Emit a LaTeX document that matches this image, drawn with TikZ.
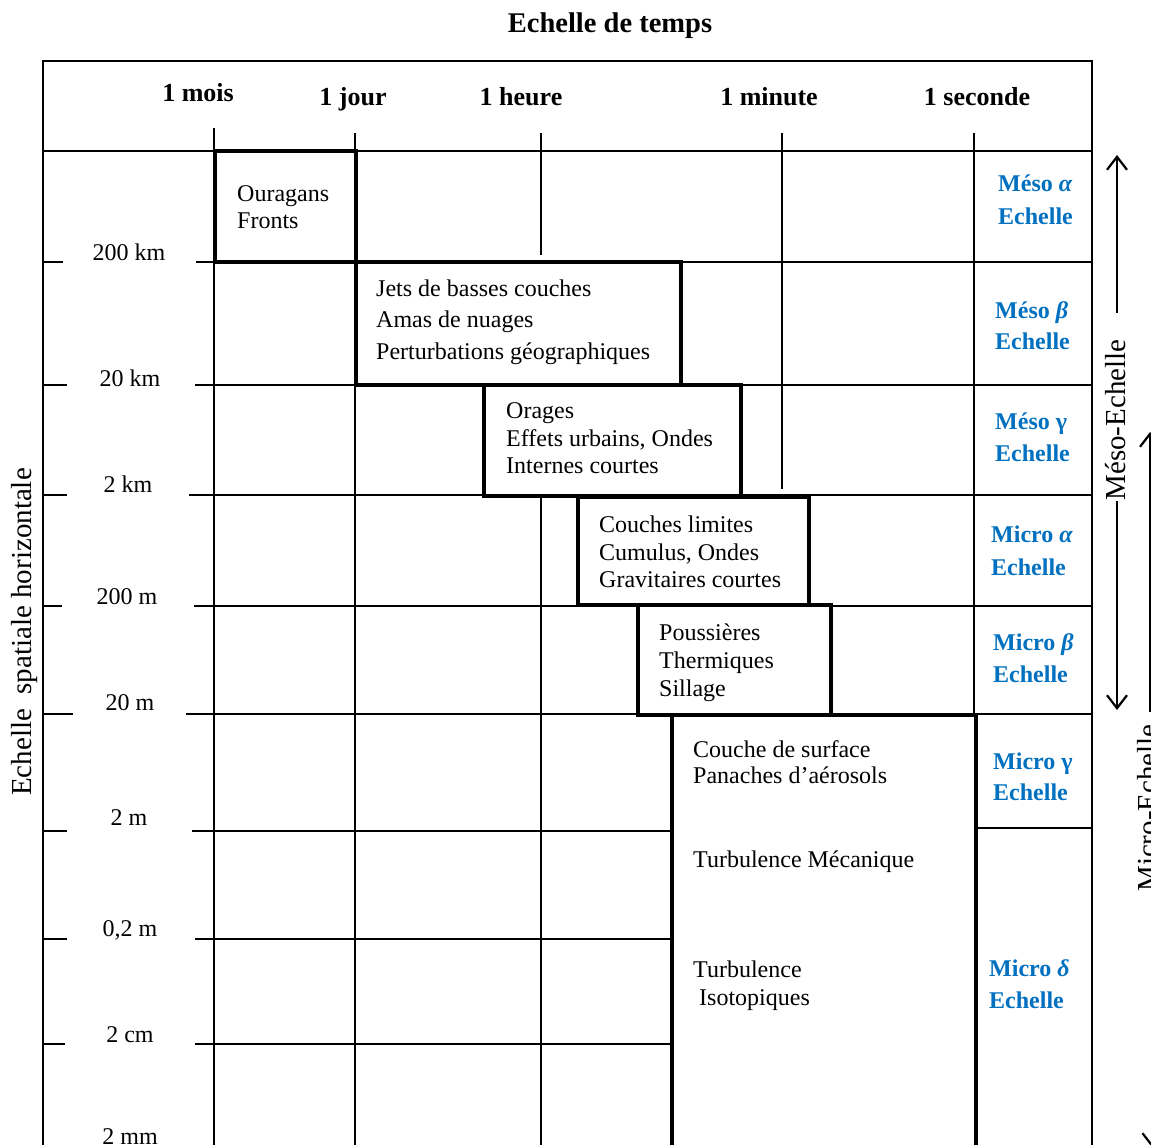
\documentclass[tikz,border=0pt]{standalone}
\usepackage{fontspec}
\setmainfont{Liberation Serif}
\usetikzlibrary{arrows.meta}
\definecolor{scaleblue}{RGB}{0,112,192}
\begin{document}
\begin{tikzpicture}[x=1pt,y=-1pt,
  gridline/.style={line width=1.4pt},
  boxline/.style={line width=3.4pt, line join=miter},
  txt/.style={inner sep=0pt, anchor=base west, font=\fontsize{24}{28}\selectfont},
  rowlbl/.style={inner sep=0pt, anchor=base, font=\fontsize{24}{28}\selectfont},
  hdr/.style={inner sep=0pt, anchor=base, font=\fontsize{26}{30}\selectfont\bfseries},
  bluelbl/.style={inner sep=0pt, anchor=base west, text=scaleblue, font=\fontsize{24}{28}\selectfont\bfseries},
  rotlbl/.style={inner sep=0pt, anchor=base, rotate=90, font=\fontsize{29}{34}\selectfont},
  arr/.style={line width=2.2pt, -{Straight Barb[length=13pt,width=20pt,line width=2.2pt]}}
]
\clip (0,0) rectangle (1151,1144);
\fill[white] (0,0) rectangle (1151,1144);

% title
\node[inner sep=0pt, anchor=base, font=\fontsize{28.5}{33}\selectfont\bfseries] (title) at (610,32) {Echelle de temps};

% frame
\draw[gridline] (43,1150) -- (43,61) -- (1092,61) -- (1092,1150);
\draw[gridline] (43,151) -- (1092,151);

% header labels
\node[hdr] (mois) at (198,101) {1 mois};
\node[hdr] (jour) at (353,105) {1 jour};
\node[hdr] (heure) at (521,105) {1 heure};
\node[hdr] (minute) at (769,105) {1 minute};
\node[hdr] (seconde) at (977,105) {1 seconde};

% vertical grid lines
\draw[gridline] (214,128) -- (214,1150);
\draw[gridline] (355,133) -- (355,1150);
\draw[gridline] (541,133) -- (541,255);
\draw[gridline] (541,497) -- (541,1150);
\draw[gridline] (782,133) -- (782,489);
\draw[gridline] (974,133) -- (974,714);

% horizontal grid lines
\foreach \yy/\aa/\bb in {262/63/196, 385/67/195, 495/67/189, 606/62/194, 714/73/186}{
  \draw[gridline] (43,\yy) -- (\aa,\yy);
  \draw[gridline] (\bb,\yy) -- (1092,\yy);
}
\foreach \yy/\aa/\bb in {831/67/192, 939/67/195, 1044/65/195}{
  \draw[gridline] (43,\yy) -- (\aa,\yy);
  \draw[gridline] (\bb,\yy) -- (671,\yy);
}
\draw[gridline] (976,828) -- (1092,828);

% row labels
\node[rowlbl] (r1) at (129,260) {200 km};
\node[rowlbl] (r2) at (130,386) {20 km};
\node[rowlbl] (r3) at (128,492) {2 km};
\node[rowlbl] (r4) at (127,604) {200 m};
\node[rowlbl] (r5) at (130,710) {20 m};
\node[rowlbl] (r6) at (129,825) {2 m};
\node[rowlbl] (r7) at (130,936) {0,2 m};
\node[rowlbl] (r8) at (130,1042) {2 cm};
\node[rowlbl] (r9) at (130,1144) {2 mm};

% boxes
\draw[boxline] (215,151) rectangle (356,262);
\draw[boxline] (356,262) rectangle (681,385);
\draw[boxline] (484,385) rectangle (741,496);
\draw[boxline] (578,497) rectangle (809,605);
\draw[boxline] (638,605) rectangle (831,715);
\draw[boxline] (672,1150) |- (976,715) -- (976,1150);

% box texts
\node[txt] (t1a) at (237,201) {Ouragans};
\node[txt] (t1b) at (237,228) {Fronts};
\node[txt] (t2a) at (376,296) {Jets de basses couches};
\node[txt] (t2b) at (376,327) {Amas de nuages};
\node[txt] (t2c) at (376,359) {Perturbations géographiques};
\node[txt] (t3a) at (506,418) {Orages};
\node[txt] (t3b) at (506,446) {Effets urbains, Ondes};
\node[txt] (t3c) at (506,473) {Internes courtes};
\node[txt] (t4a) at (599,532) {Couches limites};
\node[txt] (t4b) at (599,560) {Cumulus, Ondes};
\node[txt] (t4c) at (599,587) {Gravitaires courtes};
\node[txt] (t5a) at (659,640) {Poussières};
\node[txt] (t5b) at (659,668) {Thermiques};
\node[txt] (t5c) at (659,696) {Sillage};
\node[txt] (t6a) at (693,757) {Couche de surface};
\node[txt] (t6b) at (693,783) {Panaches d’aérosols};
\node[txt] (t6c) at (693,867) {Turbulence Mécanique};
\node[txt] (t6d) at (693,977) {Turbulence};
\node[txt] (t6e) at (699,1005) {Isotopiques};

% right column labels
\node[bluelbl] (s1a) at (998,191) {Méso \textit{α}};
\node[bluelbl] (s1b) at (998,224) {Echelle};
\node[bluelbl] (s2a) at (995,318) {Méso \textit{β}};
\node[bluelbl] (s2b) at (995,349) {Echelle};
\node[bluelbl] (s3a) at (995,429) {Méso γ};
\node[bluelbl] (s3b) at (995,461) {Echelle};
\node[bluelbl] (s4a) at (991,542) {Micro \textit{α}};
\node[bluelbl] (s4b) at (991,575) {Echelle};
\node[bluelbl] (s5a) at (993,650) {Micro \textit{β}};
\node[bluelbl] (s5b) at (993,682) {Echelle};
\node[bluelbl] (s6a) at (993,769) {Micro γ};
\node[bluelbl] (s6b) at (993,800) {Echelle};
\node[bluelbl] (s7a) at (989,976) {Micro \textit{δ}};
\node[bluelbl] (s7b) at (989,1008) {Echelle};

% rotated labels
\node[rotlbl] (ylab) at (31,632) {Echelle~ spatiale horizontale};
\node[rotlbl] (meso) at (1125,420) {Méso-Echelle};
\node[rotlbl] (micro) at (1157,808) {Micro-Echelle};

% scale arrows
\coordinate (mesoTop) at (1117,155);
\coordinate (mesoUp) at (1117,313);
\coordinate (mesoBot) at (1117,710);
\draw[arr] (mesoUp) -- (mesoTop);
\draw[arr] (meso.west -| mesoBot) -- (mesoBot);
\coordinate (microTop) at (1150,432);
\coordinate (microUp) at (1150,712);
\draw[arr] (microUp) -- (microTop);
\coordinate (microLo) at (1152.5,895);
\coordinate (microBot) at (1152.5,1148);
\draw[arr] (microLo) -- (microBot);
\end{tikzpicture}
\end{document}
